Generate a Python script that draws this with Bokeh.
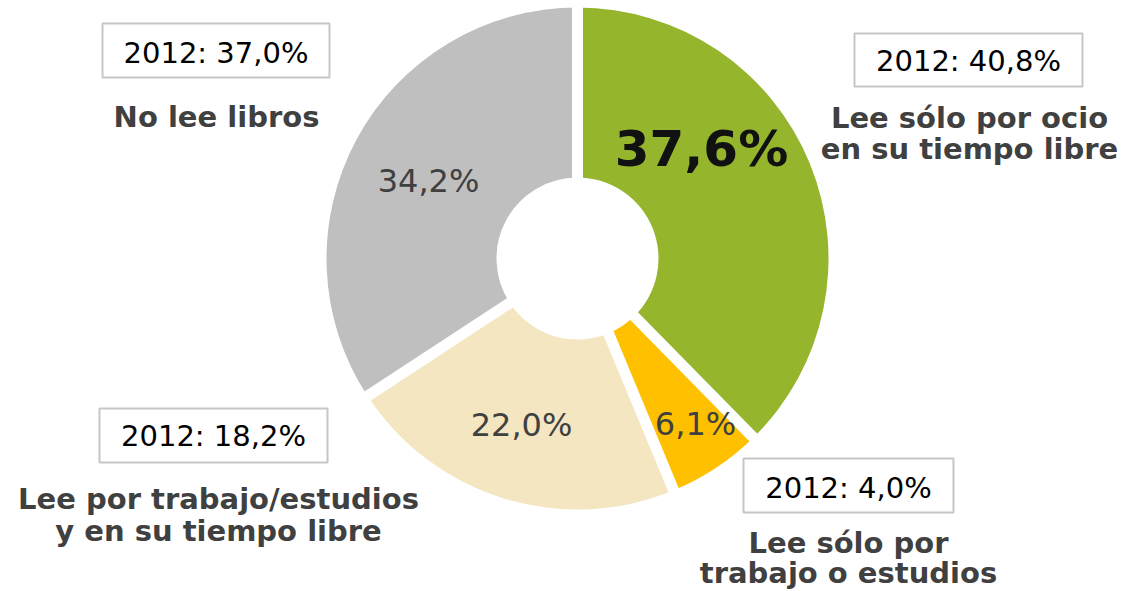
import numpy as np
from bokeh.plotting import figure
from bokeh.models import Range1d, ColumnDataSource
from bokeh.core.properties import value
from bokeh.embed import file_html
from bokeh.resources import INLINE

# ---------------- data ----------------
categories = ["Lee sólo por ocio en su tiempo libre",
              "Lee sólo por trabajo o estudios",
              "Lee por trabajo/estudios y en su tiempo libre",
              "No lee libros"]
label_lines = [["Lee sólo por ocio", "en su tiempo libre"],
               ["Lee sólo por", "trabajo o estudios"],
               ["Lee por trabajo/estudios", "y en su tiempo libre"],
               ["No lee libros"]]
values = [37.6, 6.1, 22.0, 34.2]
values_2012 = [40.8, 4.0, 18.2, 37.0]
colors = ["#95B52D", "#FFC000", "#F3E6C1", "#BFBFBF"]

# ---------------- layout (page pixel coordinates) ----------------
W, H = 1122, 591
def Y(py):
    return H - py

CX, CY = 577, Y(258)
R_OUT, R_IN = 251, 81
GAP = 11

# percent label anchors (x, visual centre y), size, weight, colour
pct_pos = [(701, 148), (695, 423), (521, 424), (428, 180)]
pct_size = ["50px", "32px", "32px", "32px"]
pct_style = ["bold", "normal", "normal", "normal"]
pct_color = ["#111111", "#404040", "#404040", "#404040"]

# 2012 boxes: left, right, top, bottom ; text centre y
boxes = [(854, 1082, 33, 86), (743, 953, 458, 512), (99, 327, 408, 462), (102, 329, 23, 77)]
box_mid = [60, 487, 435, 52]
# category label centres
cat_x = [969, 848, 218, 216]
cat_mid = [[117, 148], [542, 572], [498, 530], [116]]

def fmt(v):
    return f"{v:.1f}".replace(".", ",") + "%"

p = figure(width=W, height=H, x_range=Range1d(0, W), y_range=Range1d(0, H),
           output_backend="svg", toolbar_location=None, min_border=0)
p.axis.visible = False
p.grid.visible = False
p.outline_line_color = None
p.background_fill_color = "white"
p.border_fill_color = "white"

total = float(sum(values))
cum = np.concatenate([[0.0], np.cumsum(values)]) / total
starts = np.pi / 2 - cum[:-1] * 2 * np.pi
ends = np.pi / 2 - cum[1:] * 2 * np.pi

src = ColumnDataSource(dict(start=starts, end=ends, color=colors, cat=categories, val=values))
p.annular_wedge(x=CX, y=CY, inner_radius=R_IN, outer_radius=R_OUT, start_angle="start",
                end_angle="end", direction="clock", fill_color="color", line_color=None, source=src)

# white separators between slices
rr = R_OUT + 12
p.segment(x0=[CX] * len(starts), y0=[CY] * len(starts),
          x1=list(CX + rr * np.cos(starts)), y1=list(CY + rr * np.sin(starts)),
          line_color="white", line_width=GAP)

font = value("DejaVu Sans")

# percent labels
for i, v in enumerate(values):
    x, m = pct_pos[i]
    p.text(x=[x], y=[Y(m)], text=[fmt(v)], text_font=font, text_font_size=pct_size[i],
           text_font_style=pct_style[i], text_color=pct_color[i], text_align="center",
           text_baseline="middle")

# 2012 boxes
for i, v in enumerate(values_2012):
    l, r, t, bt = boxes[i]
    p.quad(left=[l], right=[r], top=[Y(t)], bottom=[Y(bt)], fill_color="white",
           line_color="#C6C6C6", line_width=2)
    p.text(x=[(l + r) / 2], y=[Y(box_mid[i])], text=[f"2012: {fmt(v)}"], text_font=font,
           text_font_size="29px", text_color="#000000", text_align="center",
           text_baseline="middle")

# category labels
for i, lines in enumerate(label_lines):
    for j, line in enumerate(lines):
        p.text(x=[cat_x[i]], y=[Y(cat_mid[i][j])], text=[line], text_font=font,
               text_font_size="29px", text_font_style="bold", text_color="#404040",
               text_align="center", text_baseline="middle")

open("out.html", "w").write(file_html(p, INLINE))
